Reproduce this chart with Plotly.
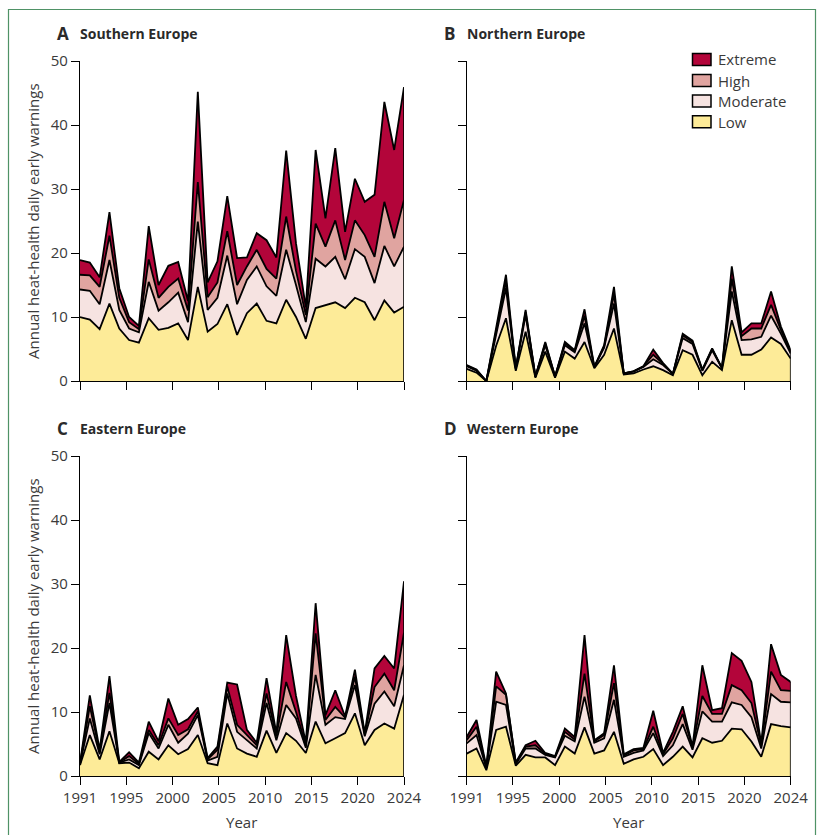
import plotly.graph_objects as go

W, H = 824, 835

years = list(range(1991, 2025))
tick_labels = ["1991", "1995", "2000", "2005", "2010", "2015", "2020", "2024"]
y_ticks = [0, 10, 20, 30, 40, 50]
levels = ["Low", "Moderate", "High", "Extreme"]
legend_order = ["Extreme", "High", "Moderate", "Low"]
colors = {"Low": "#fdeb98", "Moderate": "#f6e3e1", "High": "#e0a4a0", "Extreme": "#b3053a"}

# ---- A Southern Europe ----
south_low = [10.0, 9.6, 8.1, 12.1, 8.2, 6.4, 6.0, 9.8, 8.0, 8.3, 9.0, 6.4, 14.7, 7.7, 8.9, 12.0, 7.2,
             10.6, 12.1, 9.4, 9.0, 12.7, 10.0, 6.6, 11.4, 11.9, 12.3, 11.4, 13.0, 12.3, 9.5, 12.6, 10.7, 11.6]
south_mod = [4.3, 4.5, 3.9, 6.8, 2.9, 1.8, 1.6, 5.7, 3.0, 4.0, 4.8, 2.8, 10.2, 3.4, 4.1, 7.6, 4.8,
             5.2, 5.8, 5.4, 4.3, 7.8, 5.0, 2.6, 7.7, 6.0, 7.1, 4.5, 7.6, 7.1, 5.8, 8.5, 7.2, 9.4]
south_high = [2.3, 2.4, 2.7, 3.8, 1.9, 1.0, 0.5, 3.5, 2.0, 2.4, 2.2, 1.8, 6.2, 2.0, 2.4, 3.8, 3.0,
              2.1, 2.6, 2.7, 2.7, 5.2, 2.2, 1.1, 5.5, 3.1, 5.7, 3.0, 4.5, 3.4, 4.1, 6.9, 4.4, 7.3]
south_ext = [2.3, 2.0, 1.5, 3.7, 1.5, 0.8, 0.5, 5.2, 2.0, 3.3, 2.6, 1.5, 14.1, 2.3, 3.3, 5.5, 4.2,
             1.4, 2.6, 4.5, 3.3, 10.3, 4.3, 1.2, 11.5, 4.4, 11.3, 4.4, 6.5, 5.2, 9.7, 15.6, 13.8, 17.6]

# ---- B Northern Europe ----
north_low = [1.9, 1.3, 0.0, 5.5, 9.8, 1.6, 7.7, 0.5, 4.6, 0.5, 4.6, 3.5, 6.1, 2.0, 4.1, 8.2, 1.0,
             1.2, 1.8, 2.3, 1.7, 0.9, 4.8, 4.1, 0.9, 3.0, 1.7, 9.5, 4.1, 4.1, 4.9, 6.8, 5.8, 3.5]
north_mod = [0.4, 0.3, 0.0, 2.0, 4.7, 0.3, 2.6, 0.2, 1.0, 0.2, 1.0, 1.0, 2.9, 0.2, 1.1, 3.9, 0.2,
             0.3, 0.4, 1.1, 0.8, 0.2, 1.9, 1.7, 0.7, 1.8, 0.3, 4.5, 2.3, 2.4, 2.0, 3.4, 1.6, 0.8]
north_high = [0.1, 0.1, 0.0, 0.5, 1.1, 0.05, 0.5, 0.0, 0.3, 0.0, 0.3, 0.2, 1.2, 0.0, 0.2, 1.5, 0.0,
              0.0, 0.1, 0.7, 0.2, 0.0, 0.4, 0.3, 0.1, 0.2, 0.0, 2.0, 0.6, 1.7, 1.3, 1.7, 0.6, 0.3]
north_ext = [0.1, 0.1, 0.0, 0.3, 1.0, 0.05, 0.3, 0.0, 0.2, 0.0, 0.2, 0.1, 1.0, 0.0, 0.2, 1.1, 0.0,
             0.0, 0.0, 0.8, 0.1, 0.0, 0.3, 0.2, 0.1, 0.1, 0.0, 1.9, 0.6, 0.8, 0.8, 2.1, 0.5, 0.2]

# ---- C Eastern Europe ----
east_low = [1.7, 6.4, 2.6, 7.0, 2.0, 2.1, 1.2, 3.8, 2.6, 4.8, 3.4, 4.2, 6.4, 2.0, 1.7, 8.2, 4.3,
            3.5, 3.0, 7.1, 3.6, 6.7, 5.5, 3.6, 8.5, 5.1, 5.9, 6.7, 9.8, 4.8, 7.2, 8.2, 7.4, 12.7]
east_mod = [0.15, 2.6, 0.8, 4.4, 0.1, 0.5, 0.5, 2.9, 1.7, 3.2, 1.8, 2.4, 3.1, 0.4, 1.3, 4.7, 2.6,
            2.1, 1.3, 4.3, 2.0, 4.4, 3.5, 0.8, 7.3, 2.9, 3.3, 2.2, 4.4, 1.4, 4.1, 5.0, 3.5, 4.6]
east_high = [0.1, 1.9, 0.4, 1.6, 0.05, 0.5, 0.2, 0.5, 0.5, 1.0, 1.2, 0.7, 0.6, 0.2, 1.1, 1.1, 1.1,
             0.8, 0.5, 1.5, 0.6, 3.6, 1.0, 0.4, 6.5, 0.75, 1.6, 0.2, 1.3, 0.3, 2.6, 2.8, 2.5, 5.1]
east_ext = [0.05, 1.7, 0.3, 2.6, 0.05, 0.6, 0.2, 1.3, 0.6, 3.1, 1.6, 1.6, 0.6, 0.2, 0.5, 0.6, 6.3,
            0.8, 0.4, 2.4, 0.5, 7.3, 2.5, 0.4, 4.7, 0.75, 2.6, 0.2, 1.1, 0.2, 2.9, 2.75, 3.4, 8.0]

# ---- D Western Europe ----
west_low = [3.5, 4.3, 0.9, 7.2, 7.7, 1.6, 3.3, 2.9, 2.9, 1.7, 4.6, 3.5, 7.6, 3.5, 4.0, 6.9, 1.9,
            2.6, 3.0, 4.2, 1.7, 3.0, 4.6, 2.9, 5.9, 5.2, 5.5, 7.4, 7.3, 5.4, 3.0, 8.1, 7.8, 7.6]
west_mod = [1.6, 2.1, 0.3, 4.4, 3.4, 0.25, 1.0, 1.4, 0.4, 1.2, 1.7, 1.9, 4.8, 1.7, 1.9, 5.0, 1.1,
            1.0, 1.0, 2.5, 1.4, 1.8, 3.5, 1.2, 4.2, 3.3, 3.0, 4.1, 3.8, 3.8, 1.3, 4.7, 3.8, 3.9]
west_high = [0.5, 1.3, 0.15, 2.4, 1.6, 0.15, 0.3, 0.5, 0.15, 0.1, 0.6, 0.3, 3.6, 0.2, 0.5, 2.6, 0.2,
             0.4, 0.2, 1.0, 0.3, 1.1, 1.6, 0.3, 2.4, 1.2, 1.2, 2.7, 2.3, 2.2, 0.5, 3.5, 1.8, 1.8]
west_ext = [0.5, 1.05, 0.15, 2.3, 0.2, 0.1, 0.2, 0.7, 0.15, 0.1, 0.5, 0.4, 6.0, 0.2, 0.3, 2.8, 0.2,
            0.2, 0.2, 2.5, 0.2, 1.0, 1.2, 0.2, 4.8, 0.6, 0.9, 5.0, 4.6, 3.3, 0.3, 4.3, 2.4, 1.4]

panels = [
    ("A", "Southern Europe", [south_low, south_mod, south_high, south_ext]),
    ("B", "Northern Europe", [north_low, north_mod, north_high, north_ext]),
    ("C", "Eastern Europe", [east_low, east_mod, east_high, east_ext]),
    ("D", "Western Europe", [west_low, west_mod, west_high, west_ext]),
]

FONT = "Open Sans"
TXT = "#3a3a3a"


def xp(px):
    return px / W


def yp(py):
    return 1 - py / H


# panel pixel boxes: (left, right, top, bottom)
boxes = [(80, 404, 61, 381), (466.7, 790.7, 61, 381), (80, 404, 456, 776), (466.7, 790.7, 456, 776)]

fig = go.Figure()
layout = dict(
    width=W, height=H, autosize=False, margin=dict(l=0, r=0, t=0, b=0, pad=0, autoexpand=False),
    paper_bgcolor="white", plot_bgcolor="white",
    showlegend=False, font=dict(family=FONT, size=15, color=TXT),
    hovermode=False,
)

n_years = years[-1] - years[0]
tick_vals = [years[0] + k * n_years / (len(tick_labels) - 1) for k in range(len(tick_labels))]

annotations = []
shapes = []
for idx, (letter, name, series) in enumerate(panels):
    ax = "" if idx == 0 else str(idx + 1)
    for lvl, vals in zip(levels, series):
        fig.add_trace(go.Scatter(
            x=years, y=vals, mode="lines", name=lvl,
            stackgroup="g" + letter,
            line=dict(color="black", width=1.8, shape="linear"),
            fillcolor=colors[lvl],
            xaxis="x" + ax, yaxis="y" + ax,
        ))
    total_last = sum(s[-1] for s in series)
    fig.add_trace(go.Scatter(
        x=[years[-1], years[-1]], y=[0, total_last], mode="lines",
        line=dict(color="black", width=1.6), xaxis="x" + ax, yaxis="y" + ax,
    ))
    l, r, t, b = boxes[idx]
    bottom_row = idx >= 2
    left_col = idx % 2 == 0
    layout["xaxis" + ax] = dict(
        domain=[xp(l), xp(r)], anchor="y" + ax, range=[years[0], years[-1]],
        tickmode="array", tickvals=tick_vals, ticktext=tick_labels,
        ticks="outside", ticklen=8, tickwidth=1.2, tickcolor="black",
        showline=True, linecolor="black", linewidth=1.2, automargin=False,
        showgrid=False, zeroline=False, showticklabels=bottom_row,
        tickfont=dict(family=FONT, size=15, color=TXT),
    )
    layout["yaxis" + ax] = dict(
        domain=[yp(b), yp(t)], anchor="x" + ax, range=[0, 50],
        tickmode="array", tickvals=y_ticks,
        ticks="outside", ticklen=8, tickwidth=1.2, tickcolor="black",
        showline=True, linecolor="black", linewidth=1.2, automargin=False,
        showgrid=False, zeroline=False, showticklabels=left_col,
        tickfont=dict(family=FONT, size=15, color=TXT),
    )
    ty = t - 28
    annotations.append(dict(xref="paper", yref="paper", x=xp(l - 25), y=yp(ty), xanchor="left",
                            yanchor="middle", showarrow=False, text="<b>" + letter + "</b>",
                            font=dict(family=FONT, size=17, color="#2a2a2a")))
    annotations.append(dict(xref="paper", yref="paper", x=xp(l - 2), y=yp(ty), xanchor="left",
                            yanchor="middle", showarrow=False, text="<b>" + name + "</b>",
                            font=dict(family=FONT, size=14, color="#2a2a2a")))
    if left_col:
        annotations.append(dict(xref="paper", yref="paper", x=xp(33), y=yp((t + b) / 2),
                                xanchor="center", yanchor="middle", showarrow=False, textangle=-90,
                                text="Annual heat-health daily early warnings",
                                font=dict(family=FONT, size=15, color=TXT)))
    if bottom_row:
        annotations.append(dict(xref="paper", yref="paper", x=xp((l + r) / 2), y=yp(822),
                                xanchor="center", yanchor="middle", showarrow=False, text="Year",
                                font=dict(family=FONT, size=15, color=TXT)))

leg_rows = [59.5, 80.5, 101, 121.7]
for lvl, cy in zip(legend_order, leg_rows):
    shapes.append(dict(type="rect", xref="paper", yref="paper",
                       x0=xp(692.5), x1=xp(711), y0=yp(cy - 6), y1=yp(cy + 6),
                       fillcolor=colors[lvl], line=dict(color="black", width=1.5)))
    annotations.append(dict(xref="paper", yref="paper", x=xp(716), y=yp(cy), xanchor="left",
                            yanchor="middle", showarrow=False, text=lvl,
                            font=dict(family=FONT, size=15, color=TXT)))

shapes.append(dict(type="rect", xref="paper", yref="paper", x0=xp(8.5), x1=xp(815.5),
                   y0=yp(845), y1=yp(9.5), line=dict(color="#4f9266", width=1.2),
                   fillcolor="rgba(0,0,0,0)", layer="below"))

layout["annotations"] = annotations
layout["shapes"] = shapes
fig.update_layout(**layout)

post = ("document.body.style.margin='0';document.body.style.padding='0';"
        "document.body.style.overflow='hidden';"
        "document.documentElement.style.overflow='hidden';"
        "var gd=document.getElementById('{plot_id}');"
        "Plotly.relayout(gd,{width:824,height:835});")
fig.write_html("out.html", post_script=post, config={"responsive": False})
